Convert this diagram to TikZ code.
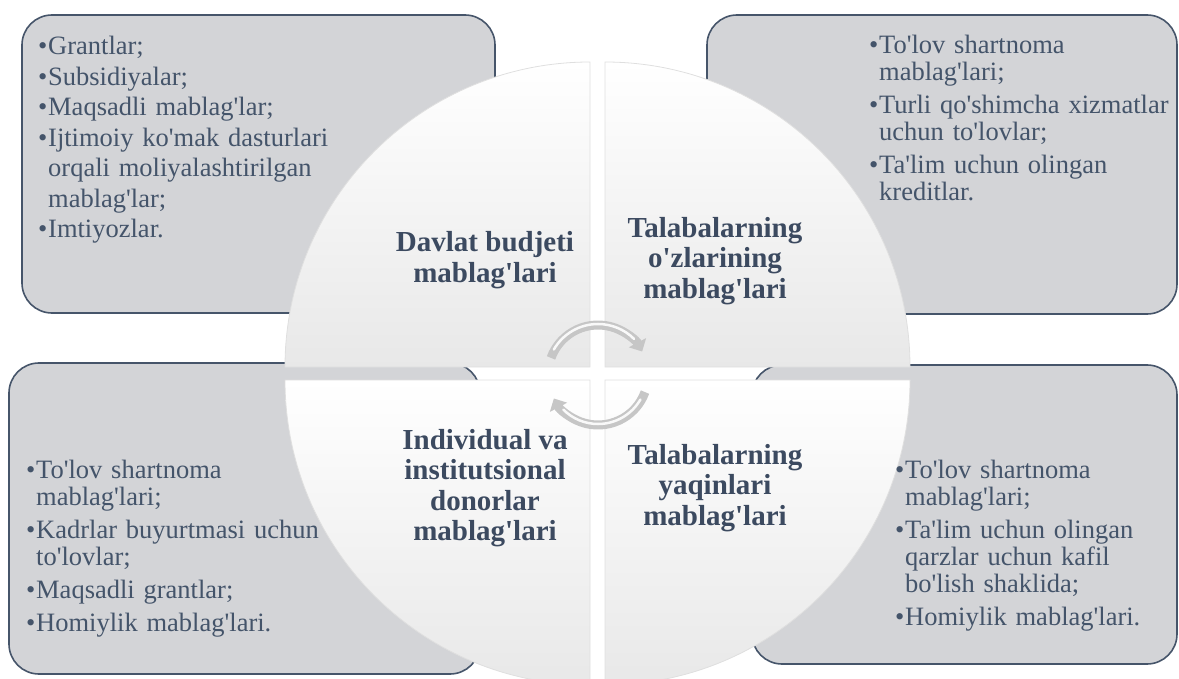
\documentclass[tikz,border=0pt]{standalone}
\usepackage{fontspec}
\setmainfont{Liberation Serif}[Ligatures=TeXOff]
\usetikzlibrary{calc,arrows.meta}

\definecolor{boxfill}{RGB}{211,212,215}
\definecolor{boxline}{RGB}{70,85,106}
\definecolor{inktext}{RGB}{68,84,106}
\definecolor{headtext}{RGB}{60,74,96}

\newcommand{\bul}[1]{\hangindent=10pt\hangafter=1\noindent\makebox[10pt][l]{\textbullet}#1\par}

\tikzset{
	listbox/.style={draw=boxline, line width=1.6pt, fill=boxfill, rounded corners=30pt},
	quarter/.style={draw=gray!25, line width=0.8pt, top color=white, bottom color=gray!18},
	itemlist/.style={anchor=north west, inner sep=0pt, text width=330pt, text=inktext,
		font=\fontsize{26.5}{27}\selectfont, execute at begin node={\raggedright\setlength{\parskip}{6pt}}},
	titletext/.style={align=center, text=headtext, font=\fontsize{29}{30.5}\selectfont\bfseries},
	turnarrow/.style={line width=9pt, draw=gray!45, -{Triangle[length=10pt,width=19pt]}},
	shine/.style={line width=2.5pt, draw=gray!5, line cap=round}
}

\begin{document}
\begin{tikzpicture}[x=1pt, y=-1pt]
			%%%%% START %%%%%
			\useasboundingbox (0, 0) rectangle (1179, 679);
			
			% four boxes
			\draw[listbox] (22, 15) rectangle (495, 313);
			\draw[listbox] (707, 15) rectangle (1177, 314);
			\draw[listbox] (9, 363) rectangle (480, 674);
			\draw[listbox] (752, 365) rectangle (1177, 664);
			
			% the split circle
			\draw[quarter] (590, 367) -- (285, 367) arc[start angle=180, end angle=90, radius=305pt] -- cycle;
			\draw[quarter] (605, 367) -- (605, 62) arc[start angle=90, end angle=0, radius=305pt] -- cycle;
			\draw[quarter] (605, 380) -- (910, 380) arc[start angle=0, end angle=-90, radius=305pt] -- cycle;
			\draw[quarter] (590, 380) -- (590, 685) arc[start angle=-90, end angle=-180, radius=305pt] -- cycle;
			
			% turning arrows
			\coordinate (turnC) at (598, 375);
			\draw[turnarrow] ($(turnC)+(160:50pt)$) arc[start angle=160, end angle=28, radius=50pt];
			\draw[turnarrow] ($(turnC)+(-20:50pt)$) arc[start angle=-20, end angle=-152, radius=50pt];
			\draw[shine] ($(turnC)+(150:51pt)$) arc[start angle=150, end angle=45, radius=51pt];
			\draw[shine] ($(turnC)+(-30:49pt)$) arc[start angle=-30, end angle=-135, radius=49pt];
			
			% titles
			\node[titletext] (stateTitle) at (485, 260) {Davlat budjeti\\mablag'lari};
			\node[titletext] (ownTitle) at (715, 261) {Talabalarning\\o'zlarining\\mablag'lari};
			\node[titletext] (donorTitle) at (485, 488) {Individual va\\institutsional\\donorlar\\mablag'lari};
			\node[titletext] (kinTitle) at (715, 488) {Talabalarning\\yaqinlari\\mablag'lari};
			
			% lists
			\node[itemlist, font=\fontsize{26.5}{30.5}\selectfont, execute at begin node={\raggedright\setlength{\parskip}{0pt}}] (stateList) at (38, 36) {%
				\bul{Grantlar;}\bul{Subsidiyalar;}\bul{Maqsadli mablag'lar;}%
				\bul{Ijtimoiy ko'mak dasturlari\newline orqali moliyalashtirilgan\newline mablag'lar;}\bul{Imtiyozlar.}};
			\node[itemlist] (ownList) at (869, 35) {%
				\bul{To'lov shartnoma\newline mablag'lari;}\bul{Turli qo'shimcha xizmatlar\newline uchun to'lovlar;}%
				\bul{Ta'lim uchun olingan\newline kreditlar.}};
			\node[itemlist] (donorList) at (26, 460) {%
				\bul{To'lov shartnoma\newline mablag'lari;}\bul{Kadrlar buyurtmasi uchun\newline to'lovlar;}%
				\bul{Maqsadli grantlar;}\bul{Homiylik mablag'lari.}};
			\node[itemlist] (kinList) at (895, 460) {%
				\bul{To'lov shartnoma\newline mablag'lari;}\bul{Ta'lim uchun olingan\newline qarzlar uchun kafil\newline bo'lish shaklida;}%
				\bul{Homiylik mablag'lari.}};
			
			%%%%% END %%%%%
\end{tikzpicture}
\end{document}
